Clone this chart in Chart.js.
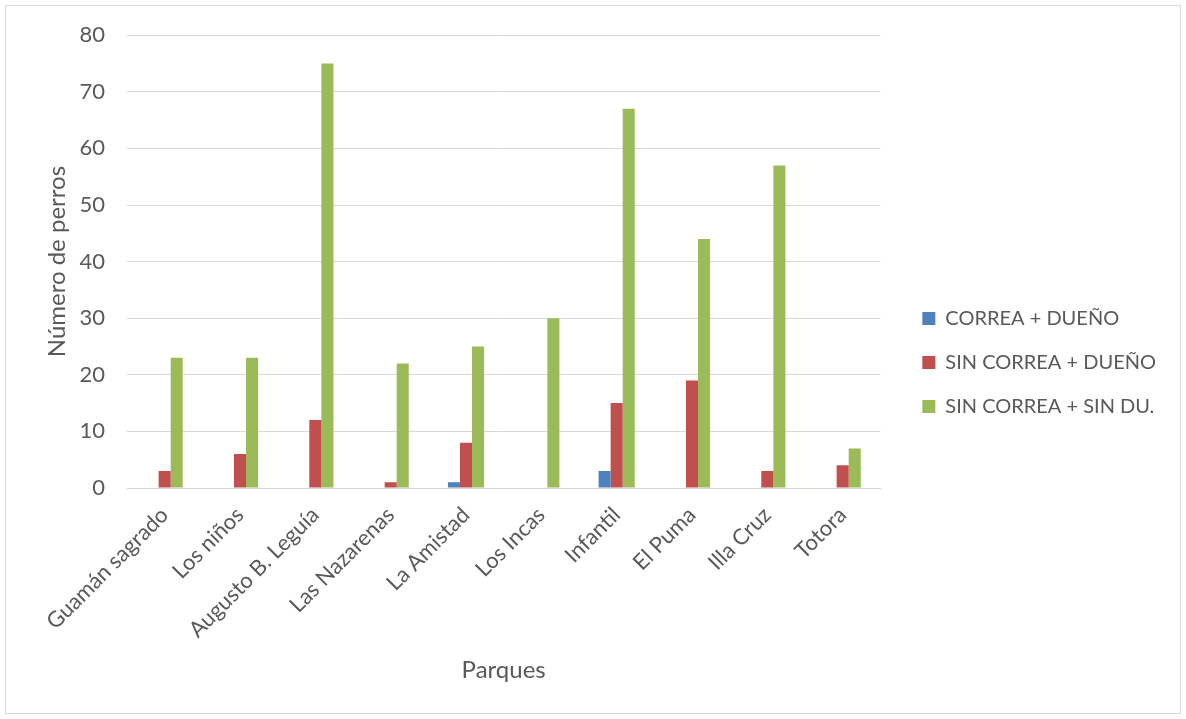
<!DOCTYPE html>
<html>
<head>
<meta charset="utf-8">
<script src="https://cdn.jsdelivr.net/npm/chart.js@4.4.0/dist/chart.umd.min.js"></script>
<style>
html,body{margin:0;padding:0;background:#fff;}
#wrap{width:1186px;height:719px;position:relative;}
</style>
</head>
<body>
<div id="wrap"><canvas id="c" width="1186" height="719"></canvas></div>
<script>
const categories = ["Guamán sagrado","Los niños","Augusto B. Leguía","Las Nazarenas","La Amistad","Los Incas","Infantil","El Puma","Illa Cruz","Totora"];
const correaDueno = [0,0,0,0,1,0,3,0,0,0];
const sinCorreaDueno = [3,6,12,1,8,0,15,19,3,4];
const sinCorreaSinDueno = [23,23,75,22,25,30,67,44,57,7];
const seriesNames = ["CORREA + DUEÑO","SIN CORREA + DUEÑO","SIN CORREA + SIN DU."];
const yTicks = [0,10,20,30,40,50,60,70,80];

const FONT = "Lato, 'Open Sans', sans-serif";
const GRAY = "#595959";
const LEGEND_GAP = 18;
const LEGEND_DY = 2;

const borderPlugin = {
  id: 'frame',
  beforeDraw(chart){
    const ctx = chart.ctx;
    ctx.save();
    ctx.fillStyle = '#fff';
    ctx.fillRect(0,0,chart.width,chart.height);
    ctx.strokeStyle = '#d9d9d9';
    ctx.lineWidth = 1;
    ctx.strokeRect(5.5,5.5,chart.width-11,chart.height-11);
    ctx.restore();
  }
};

const legendGapPlugin = {
  id: 'legendGap',
  beforeLayout(chart){
    const lg = chart.legend;
    if (lg && !lg._gapPatched){
      lg._gapPatched = true;
      const fit = lg.fit.bind(lg);
      lg.fit = function(){ fit(); this.width += LEGEND_GAP; };
      const draw = lg.draw.bind(lg);
      lg.draw = function(){
        const ctx = this.ctx;
        ctx.save();
        ctx.translate(LEGEND_GAP, LEGEND_DY);
        draw();
        ctx.restore();
      };
    }
  }
};

new Chart(document.getElementById('c'), {
  type: 'bar',
  data: {
    labels: categories,
    datasets: [
      {label: seriesNames[0], data: correaDueno, backgroundColor: '#4f81bd'},
      {label: seriesNames[1], data: sinCorreaDueno, backgroundColor: '#c0504d'},
      {label: seriesNames[2], data: sinCorreaSinDueno, backgroundColor: '#9bbb59'}
    ]
  },
  options: {
    responsive: false,
    animation: false,
    devicePixelRatio: 1,
    layout: {padding: {left: 20, top: 34, right: 20, bottom: 32}},
    datasets: {bar: {categoryPercentage: 0.48, barPercentage: 1.0}},
    plugins: {
      tooltip: {enabled: false},
      legend: {
        position: 'right',
        labels: {
          font: {family: FONT, size: 20},
          color: GRAY,
          boxWidth: 13,
          boxHeight: 13,
          padding: 24
        }
      }
    },
    scales: {
      x: {
        afterFit(scale){ scale.height = 199; },
        grid: {display: false, drawTicks: false},
        border: {display: true, color: '#d9d9d9'},
        ticks: {font: {family: FONT, size: 22}, color: GRAY, minRotation: 45, maxRotation: 45, padding: 14},
        title: {display: true, text: 'Parques', font: {family: FONT, size: 24}, color: GRAY, padding: {top: 4, bottom: 2}}
      },
      y: {
        min: 0, max: 80,
        afterFit(scale){ scale.width = 107; },
        afterBuildTicks(scale){ scale.ticks = yTicks.map(v => ({value: v})); },
        grid: {color: '#d9d9d9', drawTicks: false},
        border: {display: false},
        ticks: {font: {family: FONT, size: 22}, color: GRAY, padding: 22},
        title: {display: true, text: 'Número de perros', font: {family: FONT, size: 24}, color: GRAY, padding: {top: 23, bottom: 0}}
      }
    }
  },
  plugins: [borderPlugin, legendGapPlugin]
});
</script>
</body>
</html>
